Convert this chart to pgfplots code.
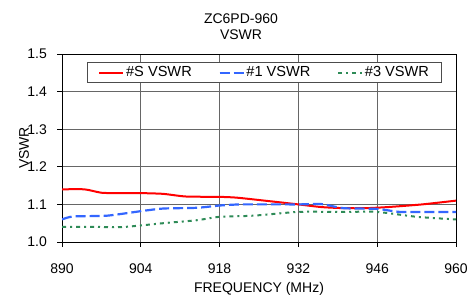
\documentclass[border=0pt]{standalone}
\usepackage{pgfplots}
\pgfplotsset{compat=1.18}
\usepackage{fontspec}
\setmainfont{Liberation Sans}
\definecolor{cred}{RGB}{255,0,0}
\definecolor{cblue}{RGB}{51,102,255}
\definecolor{cgreen}{RGB}{46,139,87}
\begin{document}
\begin{tikzpicture}
\fontsize{14}{16}\selectfont
\begin{axis}[
  at={(62pt,54pt)}, anchor=south west,
  scale only axis, width=394pt, height=188pt,
  xmin=890, xmax=960, ymin=1.0, ymax=1.5,
  xtick={890,904,918,932,946,960},
  ytick={1.0,1.1,1.2,1.3,1.4,1.5},
  yticklabel style={/pgf/number format/fixed,/pgf/number format/fixed zerofill,/pgf/number format/precision=1},
  /pgf/number format/assume math mode=true,
  xticklabel style={/pgf/number format/1000 sep={}, anchor=base, inner sep=0pt, yshift=-27pt},
  yticklabel style={anchor=east, inner sep=0pt, xshift=-10pt},
  tick align=outside, major tick length=5pt,
  xtick pos=bottom, ytick pos=left,
  tick style={black, line width=0.8pt},
  axis line style={black, line width=0.8pt},
  grid=major, grid style={black!60, line width=0.8pt},
  ticklabel style={font=\fontsize{14}{16}\selectfont},
  xlabel={FREQUENCY (MHz)}, ylabel={VSWR},
  label style={font=\fontsize{14}{16}\selectfont},
  xlabel style={at={(axis description cs:0.5,-0.266)}, anchor=base},
  ylabel style={at={(axis description cs:-0.0964,0.5)}, anchor=center},
  legend columns=3,
  legend style={at={(axis description cs:0.0635,0.957)}, anchor=north west,
    draw=black!70, line width=0.8pt, inner xsep=11pt, inner ysep=2pt,
    font=\fontsize{14.6}{16}\selectfont,
    nodes={inner xsep=1.7pt},
    /tikz/every even column/.append style={column sep=25pt}},
  legend image code/.code={\draw[#1] (0pt,0pt) -- (24pt,0pt);},
]
\addplot[cred, line width=2pt, smooth, tension=0.4] coordinates {
(890,1.14) (894,1.14) (897,1.131) (900,1.13) (904,1.13) (908,1.128) (912,1.121) (918,1.12) (921,1.118) (926,1.11) (932,1.10) (936,1.093) (940,1.09) (944,1.09) (948,1.093) (954,1.10) (960,1.11)};
\addlegendentry{\#S VSWR}
\addplot[cblue, line width=2.2pt, dash pattern=on 10pt off 4pt, smooth, tension=0.4] coordinates {
(890,1.06) (892,1.068) (898,1.07) (904,1.082) (908,1.089) (914,1.091) (918,1.097) (922,1.10) (932,1.10) (936,1.101) (940,1.09) (946,1.088) (950,1.08) (955,1.08) (960,1.08)};
\addlegendentry{\#1 VSWR}
\addplot[cgreen, line width=2pt, dash pattern=on 4pt off 4pt on 2pt off 4pt, smooth, tension=0.4] coordinates {
(890,1.04) (896,1.04) (901,1.04) (908,1.05) (914,1.058) (918,1.067) (924,1.07) (932,1.08) (940,1.08) (946,1.08) (953,1.067) (960,1.06)};
\addlegendentry{\#3 VSWR}
\end{axis}
\node[anchor=base, inner sep=0pt] at (241pt,272pt) {ZC6PD-960};
\node[anchor=base, inner sep=0pt] at (241pt,256pt) {VSWR};
\pgfresetboundingbox
\path[use as bounding box] (0pt,0pt) rectangle (468pt,296pt);
\end{tikzpicture}
\end{document}
